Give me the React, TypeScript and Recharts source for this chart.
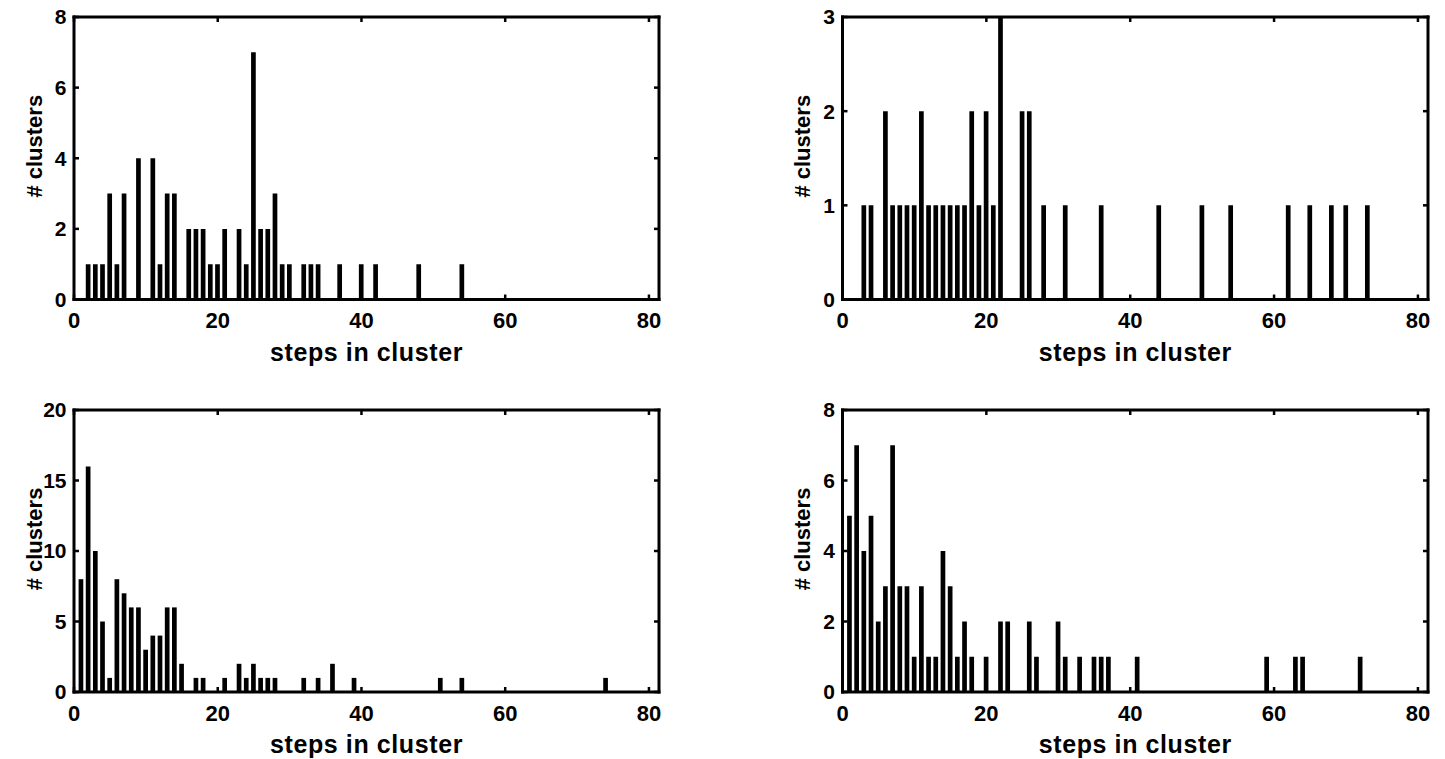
import React from 'react';
import { BarChart, Bar, XAxis, YAxis } from 'recharts';

// ---- data ----
const xTicks = [0, 20, 40, 60, 80];

const steps1 = [2, 3, 4, 5, 6, 7, 9, 11, 12, 13, 14, 16, 17, 18, 19, 20, 21, 23, 24, 25, 26, 27, 28, 29, 30, 32, 33, 34, 37, 40, 42, 48, 54];
const counts1 = [1, 1, 1, 3, 1, 3, 4, 4, 1, 3, 3, 2, 2, 2, 1, 1, 2, 2, 1, 7, 2, 2, 3, 1, 1, 1, 1, 1, 1, 1, 1, 1, 1];
const yTicks1 = [0, 2, 4, 6, 8];

const steps2 = [3, 4, 6, 7, 8, 9, 10, 11, 12, 13, 14, 15, 16, 17, 18, 19, 20, 21, 22, 25, 26, 28, 31, 36, 44, 50, 54, 62, 65, 68, 70, 73];
const counts2 = [1, 1, 2, 1, 1, 1, 1, 2, 1, 1, 1, 1, 1, 1, 2, 1, 2, 1, 3, 2, 2, 1, 1, 1, 1, 1, 1, 1, 1, 1, 1, 1];
const yTicks2 = [0, 1, 2, 3];

const steps3 = [1, 2, 3, 4, 5, 6, 7, 8, 9, 10, 11, 12, 13, 14, 15, 17, 18, 21, 23, 24, 25, 26, 27, 28, 32, 34, 36, 39, 51, 54, 74];
const counts3 = [8, 16, 10, 5, 1, 8, 7, 6, 6, 3, 4, 4, 6, 6, 2, 1, 1, 1, 2, 1, 2, 1, 1, 1, 1, 1, 2, 1, 1, 1, 1];
const yTicks3 = [0, 5, 10, 15, 20];

const steps4 = [1, 2, 3, 4, 5, 6, 7, 8, 9, 10, 11, 12, 13, 14, 15, 16, 17, 18, 20, 22, 23, 26, 27, 30, 31, 33, 35, 36, 37, 41, 59, 63, 64, 72];
const counts4 = [5, 7, 4, 5, 2, 3, 7, 3, 3, 1, 3, 1, 1, 4, 3, 1, 2, 1, 1, 2, 2, 2, 1, 2, 1, 1, 1, 1, 1, 1, 1, 1, 1, 1];
const yTicks4 = [0, 2, 4, 6, 8];

const X_LABEL = 'steps in cluster';
const Y_LABEL = '# clusters';

// ---- styles ----
const FONT = '"Liberation Sans", Arial, Helvetica, sans-serif';
const xTickStyle = { fontSize: 22, fontWeight: 'bold', fill: '#000', fontFamily: FONT };
const yTickStyle = { fontSize: 21, fontWeight: 'bold', fill: '#000', fontFamily: FONT };
const axisLineStyle = { stroke: '#000', strokeWidth: 3, strokeLinecap: 'square' as const };
const tickLineStyle = { stroke: '#000', strokeWidth: 2.5 };
const X_DOMAIN: [number, number] = [0, 81.4];

const YLabelContent = (props: any) => {
  const vb = props.viewBox || { x: 0, y: 0, width: 74, height: 282 };
  const cx = vb.x + vb.width - 40;
  const cy = vb.y + vb.height / 2 - 12;
  return (
    <text
      x={cx}
      y={cy}
      transform={`rotate(-90 ${cx} ${cy})`}
      textAnchor="middle"
      dominantBaseline="central"
      fontSize={22}
      fontWeight="bold"
      fill="#000"
      fontFamily={FONT}
    >
      {Y_LABEL}
    </text>
  );
};

type PanelProps = {
  left: number;
  top: number;
  width: number;
  height: number;
  margin: { top: number; right: number; bottom: number; left: number };
  yAxisWidth: number;
  steps: number[];
  counts: number[];
  yTicks: number[];
};

function Panel({ left, top, width, height, margin, yAxisWidth, steps, counts, yTicks }: PanelProps) {
  const data = steps.map((s, i) => ({ step: s, count: counts[i] }));
  const yMax = yTicks[yTicks.length - 1];
  return (
    <div style={{ position: 'absolute', left, top, width, height }}>
      <BarChart width={width} height={height} data={data} margin={margin} style={{ fontFamily: FONT }}>
        <XAxis
          xAxisId="b"
          dataKey="step"
          type="number"
          domain={X_DOMAIN}
          allowDataOverflow
          ticks={xTicks}
          height={61}
          axisLine={axisLineStyle}
          tickLine={tickLineStyle}
          tickSize={-5}
          tickMargin={18}
          tick={xTickStyle}
          interval={0}
          label={{
            value: X_LABEL,
            position: 'insideBottom',
            offset: 0,
            fontSize: 25,
            fontWeight: 'bold',
            fill: '#000',
            fontFamily: FONT,
            letterSpacing: 0.6,
          }}
        />
        <XAxis
          xAxisId="t"
          orientation="top"
          dataKey="step"
          type="number"
          domain={X_DOMAIN}
          allowDataOverflow
          ticks={xTicks}
          height={1}
          axisLine={axisLineStyle}
          tickLine={tickLineStyle}
          tickSize={-5}
          tickFormatter={() => ''}
          interval={0}
        />
        <YAxis
          yAxisId="l"
          type="number"
          domain={[0, yMax]}
          allowDataOverflow
          ticks={yTicks}
          width={yAxisWidth}
          axisLine={axisLineStyle}
          tickLine={tickLineStyle}
          tickSize={-5}
          tickMargin={12.5}
          tick={yTickStyle}
          interval={0}
          label={YLabelContent}
        />
        <YAxis
          yAxisId="r"
          orientation="right"
          type="number"
          domain={[0, yMax]}
          allowDataOverflow
          ticks={yTicks}
          width={1}
          axisLine={axisLineStyle}
          tickLine={tickLineStyle}
          tickSize={-5}
          tickFormatter={() => ''}
          interval={0}
        />
        <Bar xAxisId="t" yAxisId="r" dataKey="count" fill="none" fillOpacity={0} barSize={1} isAnimationActive={false} />
        <Bar xAxisId="b" yAxisId="l" dataKey="count" fill="#000" barSize={4.7} isAnimationActive={false} />
      </BarChart>
    </div>
  );
}

export default function App() {
  return (
    <div style={{ position: 'absolute', left: 0, top: 0, width: 1445, height: 759, background: '#fff', overflow: 'hidden' }}>
      <Panel left={0} top={0} width={720} height={380} margin={{ top: 16, right: 60, bottom: 19.5, left: 0 }} yAxisWidth={74} steps={steps1} counts={counts1} yTicks={yTicks1} />
      <Panel left={770} top={0} width={675} height={380} margin={{ top: 16, right: 16, bottom: 19.5, left: 0 }} yAxisWidth={72.5} steps={steps2} counts={counts2} yTicks={yTicks2} />
      <Panel left={0} top={380} width={720} height={379} margin={{ top: 29, right: 60, bottom: 6, left: 0 }} yAxisWidth={74} steps={steps3} counts={counts3} yTicks={yTicks3} />
      <Panel left={770} top={380} width={675} height={379} margin={{ top: 29, right: 16, bottom: 6, left: 0 }} yAxisWidth={72.5} steps={steps4} counts={counts4} yTicks={yTicks4} />
    </div>
  );
}
